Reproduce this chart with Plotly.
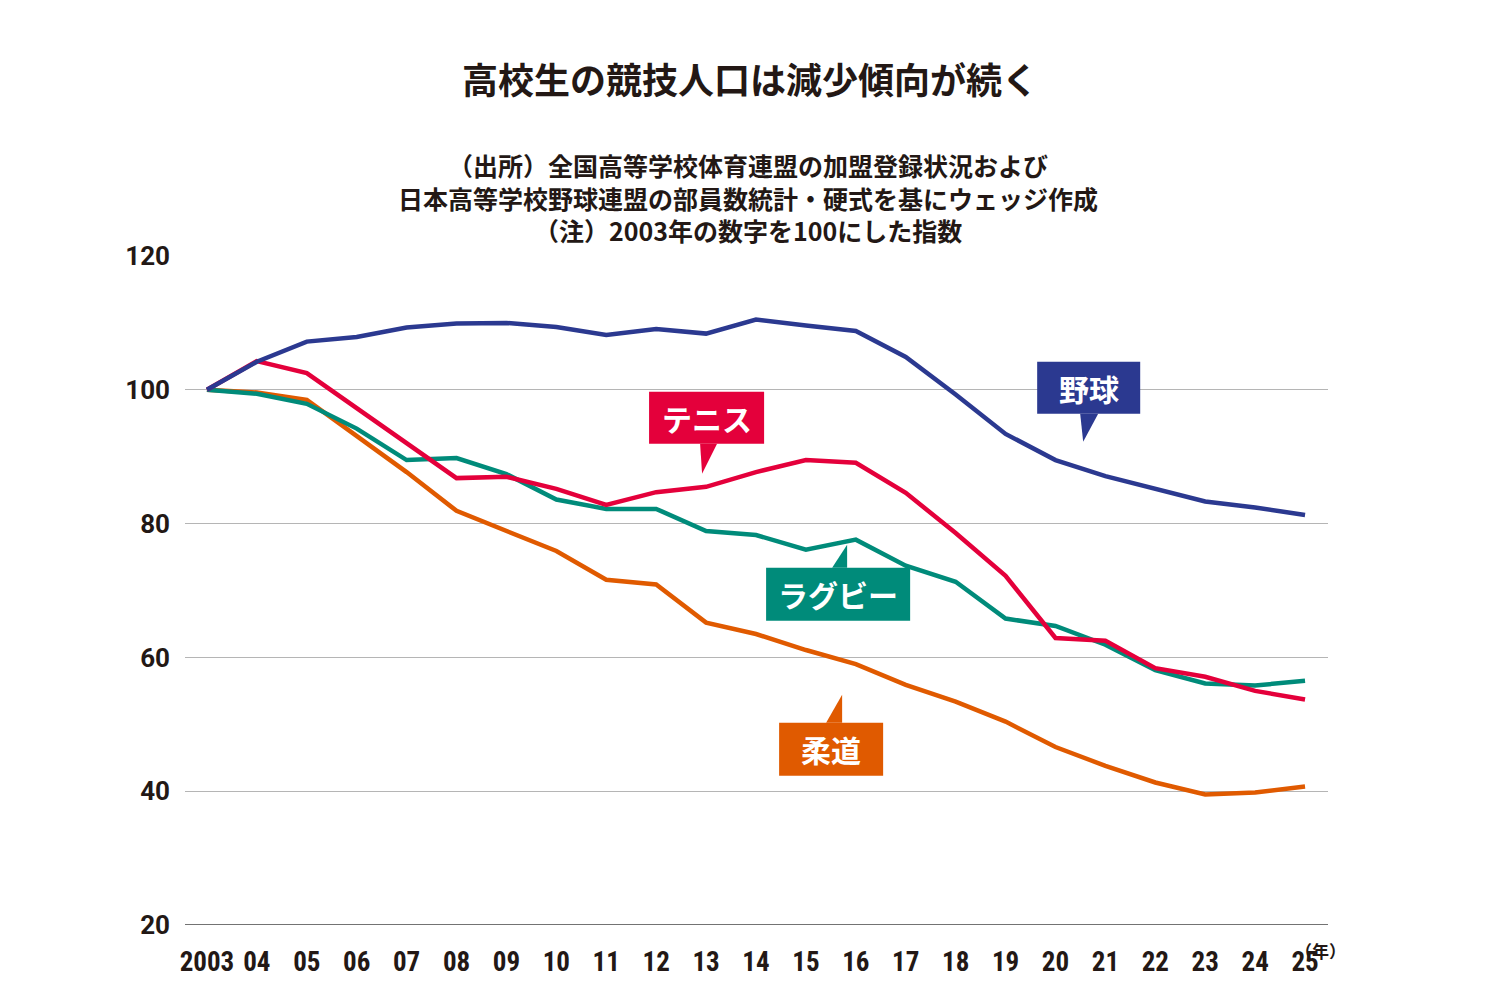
import plotly.graph_objects as go

years = list(range(2003, 2026))
tick_labels = ["2003"] + [f"{y % 100:02d}" for y in range(2004, 2026)]
baseball = [100, 104.2, 107.2, 107.9, 109.3, 109.9, 110.0, 109.4, 108.2, 109.1, 108.4, 110.5, 109.6, 108.8, 104.9, 99.3, 93.4, 89.5, 87.1, 85.2, 83.3, 82.4, 81.3]
tennis = [100, 104.3, 102.5, 97.2, 92.1, 86.8, 87.0, 85.2, 82.8, 84.7, 85.5, 87.7, 89.5, 89.1, 84.6, 78.6, 72.2, 62.9, 62.5, 58.4, 57.1, 55.0, 53.7]
rugby = [100, 99.4, 97.9, 94.2, 89.5, 89.8, 87.4, 83.6, 82.2, 82.2, 78.9, 78.3, 76.1, 77.6, 73.7, 71.3, 65.8, 64.7, 61.9, 58.1, 56.1, 55.8, 56.5]
judo = [100, 99.6, 98.5, 93.1, 87.7, 81.9, 78.9, 75.9, 71.6, 70.9, 65.2, 63.5, 61.1, 59.0, 55.9, 53.4, 50.4, 46.6, 43.8, 41.3, 39.5, 39.8, 40.7]

C_BLUE, C_RED, C_TEAL, C_ORANGE = "#2b3990", "#e4003b", "#008b7a", "#e05a00"
FONT = "Noto Sans CJK JP"

fig = go.Figure()
for name, vals, col in [("柔道", judo, C_ORANGE), ("ラグビー", rugby, C_TEAL),
                        ("テニス", tennis, C_RED), ("野球", baseball, C_BLUE)]:
    fig.add_trace(go.Scatter(x=years, y=vals, mode="lines", name=name,
                             line=dict(color=col, width=4.5), showlegend=False))

def X(px): return 2003 + (px - 207) / 49.9
def Y(py): return 100 - (py - 390) / 6.69

shapes = []
annos = []
labels = [
    ("野球", C_BLUE, (1037, 362, 1140, 414), [(1080, 414), (1098, 414), (1083, 442)]),
    ("テニス", C_RED, (649, 392, 764, 444), [(700, 444), (717, 444), (702, 474)]),
    ("ラグビー", C_TEAL, (766, 568, 910, 621), [(832, 568), (847, 568), (847, 545)]),
    ("柔道", C_ORANGE, (779, 723, 883, 776), [(826, 723), (842, 723), (842, 695)]),
]
for text, col, (x0, y0, x1, y1), tri in labels:
    shapes.append(dict(type="rect", x0=X(x0), x1=X(x1), y0=Y(y1), y1=Y(y0),
                       fillcolor=col, line=dict(width=0), layer="above"))
    path = "M " + " L ".join(f"{X(a)},{Y(b)}" for a, b in tri) + " Z"
    shapes.append(dict(type="path", path=path, fillcolor=col, line=dict(width=0), layer="above"))
    annos.append(dict(x=X((x0 + x1) / 2), y=Y((y0 + y1) / 2), text=f"<b>{text}</b>", showarrow=False,
                      font=dict(family=FONT, size=30, color="white")))

W, H = 1500, 1000
OFF = 8  # page offset
L, R, T, B = 185 - OFF, 172 + OFF, 256 - OFF, 75 + OFF

def PX(px): return (px - OFF - L) / (W - L - R)
def PY(py): return 1 - (py - OFF - T) / (H - T - B)

annos += [
    dict(x=PX(750), y=PY(50), xref="paper", yref="paper", text="<b>高校生の競技人口は減少傾向が続く</b>", showarrow=False,
         font=dict(family=FONT, size=36, color="#231815")),
    dict(x=PX(748), y=PY(145), xref="paper", yref="paper",
         text="<b>（出所）全国高等学校体育連盟の加盟登録状況および<br>日本高等学校野球連盟の部員数統計・硬式を基にウェッジ作成<br>（注）2003年の数字を100にした指数</b>",
         showarrow=False, font=dict(family=FONT, size=25, color="#231815")),
    dict(x=PX(1348), y=PY(965), xref="paper", yref="paper", text="<b>（年）</b>", showarrow=False,
         font=dict(family=FONT, size=17, color="#231815")),
]

fig.update_layout(
    width=W, height=H, margin=dict(l=L, r=R, t=T, b=B),
    paper_bgcolor="white", plot_bgcolor="white",
    shapes=shapes, annotations=annos,
    font=dict(family=FONT, color="#231815"),
    xaxis=dict(range=[2002.56, 2025.46], tickvals=years, ticktext=[f"<b>{t}</b>" for t in tick_labels],
               showgrid=False, zeroline=False, showline=False, ticks="", ticklabelstandoff=18,
               tickfont=dict(family="Roboto Condensed, Roboto", size=27, color="#231815")),
    yaxis=dict(range=[20, 120], tickvals=[20, 40, 60, 80, 100, 120],
               ticktext=[f"<b>{v}</b>" for v in [20, 40, 60, 80, 100, 120]],
               showgrid=True, gridcolor="#b5b5b5", gridwidth=1, zeroline=False, ticks="",
               showline=False, tickfont=dict(family="Roboto", size=26, color="#231815"), ticklabelstandoff=14),
)
fig.add_shape(type="line", xref="paper", x0=0, x1=1, yref="y", y0=20, y1=20,
              line=dict(color="#444", width=1.5))
fig.write_html("out.html")
